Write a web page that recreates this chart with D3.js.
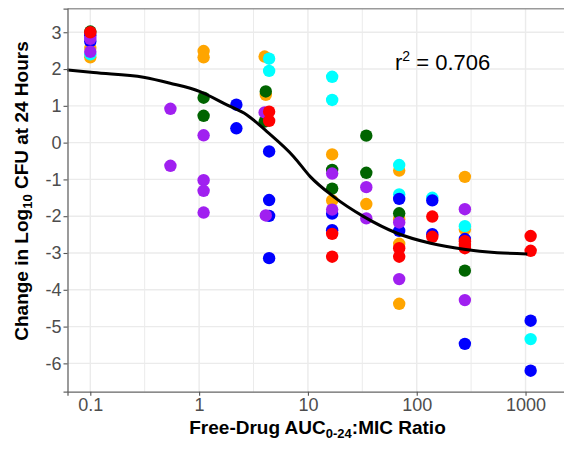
<!DOCTYPE html>
<html>
<head>
<meta charset="utf-8">
<script src="https://cdn.jsdelivr.net/npm/d3@7"></script>
<style>
  html, body { margin: 0; padding: 0; background: #fff; }
  svg { display: block; font-family: "Liberation Sans", Arial, Helvetica, sans-serif; }
</style>
</head>
<body>
<svg id="chart" width="564" height="454"></svg>
<script>
// ---- data ----
const xTicks = [0.1, 1, 10, 100, 1000];
const xTickLabels = ["0.1", "1", "10", "100", "1000"];
const xMinor = [0.316, 3.16, 31.6, 316, 3162];
const yTicks = [3, 2, 1, 0, -1, -2, -3, -4, -5, -6];

const orangePts = [[0.1,2.57],[0.1,2.32],[1.1,2.49],[1.1,2.32],[4.0,2.34],[4.1,1.30],
  [16.7,-0.32],[16.7,-1.57],[34.4,-1.67],[69,-0.76],[69,-2.08],[69,-2.75],[69,-4.38],
  [277,-0.93],[277,-2.36]];
const cyanPts = [[0.1,2.40],[4.4,2.28],[4.4,1.95],[16.7,1.79],[16.7,1.16],[69,-0.61],
  [69,-1.41],[139,-1.50],[277,-2.27],[1114,-5.34]];
const greenPts = [[0.1,3.02],[1.1,1.22],[1.1,0.73],[4.1,1.39],[4.0,0.57],[16.7,-0.74],
  [16.7,-1.25],[34.4,0.19],[34.4,-0.82],[69,-1.92],[277,-3.48]];
const bluePts = [[0.1,2.92],[0.1,2.75],[2.2,1.03],[2.2,0.39],[4.4,-0.24],[4.4,-1.56],
  [4.4,-1.99],[4.4,-3.14],[16.7,-1.93],[16.7,-2.38],[69,-1.53],[69,-2.40],[139,-1.57],
  [139,-2.49],[277,-2.62],[277,-5.47],[1114,-4.84],[1114,-6.20]];
const purplePts = [[0.1,2.82],[0.1,2.47],[0.545,0.92],[0.545,-0.63],[1.1,0.20],[1.1,-1.02],
  [1.1,-1.31],[1.1,-1.90],[4.0,0.82],[4.1,-1.98],[16.7,-0.84],[16.7,-1.82],[34.4,-1.21],
  [34.4,-2.06],[69,-2.17],[69,-3.71],[277,-1.81],[277,-4.28]];
const redPts = [[0.1,3.0],[4.4,0.84],[4.4,0.59],[16.7,-2.48],[16.7,-3.10],[69,-2.87],
  [69,-3.10],[139,-2.01],[139,-2.56],[277,-2.68],[277,-2.78],[277,-2.87],[1114,-2.54],[1114,-2.94]];

const curveX = [0.0614, 0.107, 0.308, 0.542, 1.02, 1.80, 2.75, 4.2, 7.4, 10.5, 17.2, 32.6, 66, 134, 271, 550, 1038];
const curveY = [1.977, 1.903, 1.778, 1.615, 1.387, 1.025, 0.753, 0.299, -0.381, -0.924, -1.468, -2.012, -2.463, -2.735, -2.898, -2.991, -3.026];

const r2Label = "0.706";

const series = [
  { pts: orangePts, color: "#FFA500" },
  { pts: cyanPts,   color: "#00FFFF" },
  { pts: greenPts,  color: "#006400" },
  { pts: bluePts,   color: "#0000FF" },
  { pts: purplePts, color: "#A020F0" },
  { pts: redPts,    color: "#FF0000" }
];

// ---- layout ----
const panel = { left: 67.5, right: 572, top: 8.7, bottom: 391.7 };
const svg = d3.select("#chart");

const x = d3.scaleLog()
  .domain([Math.pow(10, -1.2096), Math.pow(10, 3.427)])
  .range([panel.left, panel.right]);
const y = d3.scaleLinear()
  .domain([-6.77, 3.64])
  .range([panel.bottom, panel.top]);

// gridlines
const grid = svg.append("g");
grid.selectAll("line.xminor").data(xMinor).join("line")
  .attr("x1", d => x(d)).attr("x2", d => x(d))
  .attr("y1", panel.top).attr("y2", panel.bottom)
  .attr("stroke", "#ebebeb").attr("stroke-width", 1);
grid.selectAll("line.xmajor").data(xTicks).join("line")
  .attr("x1", d => x(d)).attr("x2", d => x(d))
  .attr("y1", panel.top).attr("y2", panel.bottom)
  .attr("stroke", "#ebebeb").attr("stroke-width", 1.4);
grid.selectAll("line.ymajor").data(yTicks).join("line")
  .attr("x1", panel.left).attr("x2", panel.right)
  .attr("y1", d => y(d)).attr("y2", d => y(d))
  .attr("stroke", "#ebebeb").attr("stroke-width", 1.4);

// top border
svg.append("line")
  .attr("x1", panel.left).attr("x2", panel.right)
  .attr("y1", panel.top).attr("y2", panel.top)
  .attr("stroke", "#9a9a9a").attr("stroke-width", 1.5);

// points
const pts = svg.append("g");
series.forEach(s => {
  pts.append("g").selectAll("circle").data(s.pts).join("circle")
    .attr("cx", d => x(d[0])).attr("cy", d => y(d[1]))
    .attr("r", 6.2).attr("fill", s.color);
});

// fitted curve
const line = d3.line()
  .x(d => x(d[0])).y(d => y(d[1]))
  .curve(d3.curveMonotoneX);
svg.append("path")
  .datum(curveX.map((v, i) => [v, curveY[i]]))
  .attr("d", line)
  .attr("fill", "none").attr("stroke", "#000").attr("stroke-width", 3);

// axes
const yAxis = d3.axisLeft(y).tickValues(yTicks).tickSize(4).tickPadding(2)
  .tickFormat(d => String(d));
const gy = svg.append("g").attr("transform", `translate(${panel.left},0)`).call(yAxis);
const xAxis = d3.axisBottom(x).tickValues(xTicks).tickSize(4).tickPadding(3)
  .tickFormat((d, i) => xTickLabels[i]);
const gx = svg.append("g").attr("transform", `translate(0,${panel.bottom})`).call(xAxis);

[gx, gy].forEach(g => {
  g.select(".domain").attr("stroke", "#666").attr("stroke-width", 1.3);
  g.selectAll(".tick line").attr("stroke", "#555").attr("stroke-width", 1.1);
  g.selectAll(".tick text").attr("fill", "#4d4d4d")
    .style("font-size", "18px").style("font-family", "'Liberation Sans', Arial, sans-serif");
});

// r^2 annotation
const r2 = svg.append("text").attr("x", 395).attr("y", 70)
  .style("font-size", "22px").attr("fill", "#000");
r2.append("tspan").text("r");
r2.append("tspan").text("2").style("font-size", "14px").attr("dy", -9);
r2.append("tspan").text(" = " + r2Label).attr("dy", 9);

// x title
const xt = svg.append("text").attr("x", 317.5).attr("y", 434)
  .attr("text-anchor", "middle").style("font-size", "19px").style("font-weight", "bold").attr("fill", "#000");
xt.append("tspan").text("Free-Drug AUC");
xt.append("tspan").text("0-24").style("font-size", "13px").attr("dy", 4);
xt.append("tspan").text(":MIC Ratio").attr("dy", -4);

// y title
const yt = svg.append("text")
  .attr("transform", "translate(28,191) rotate(-90)")
  .attr("text-anchor", "middle").style("font-size", "19px").style("font-weight", "bold").attr("fill", "#000");
yt.append("tspan").text("Change in Log");
yt.append("tspan").text("10").style("font-size", "13px").attr("dy", 4);
yt.append("tspan").text(" CFU at 24 Hours").attr("dy", -4);
</script>
</body>
</html>
